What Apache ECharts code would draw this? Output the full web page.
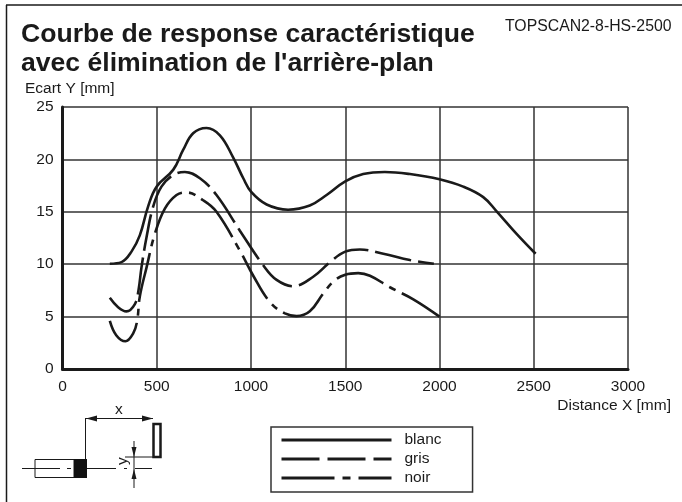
<!DOCTYPE html>
<html>
<head>
<meta charset="utf-8">
<style>html,body{margin:0;padding:0;background:#fff}#chart{width:682px;height:502px}</style>
<script src="https://cdn.jsdelivr.net/npm/echarts@6/dist/echarts.min.js"></script>
</head>
<body>
<div id="chart"></div>
<script>
var blanc = [[251,10.05],[313,10.2],[366,11.2],[410,12.75],[454,15.5],[499,17.4],[587,19],[640,20.9],[693,22.5],[764,23],[835,22.3],[905,20.2],[959,18.2],[1001,16.9],[1083,15.7],[1197,15.2],[1312,15.6],[1401,16.6],[1500,17.9],[1595,18.6],[1710,18.8],[1843,18.6],[2000,18.1],[2126,17.4],[2232,16.4],[2303,15.05],[2409,12.9],[2510,11]];
var gris = [[251,6.8],[295,5.9],[339,5.5],[384,6.2],[403,7.5],[419,9.7],[446,12.6],[481,15.5],[525,17.4],[587,18.5],[649,18.8],[729,18.2],[817,16.6],[941,13.2],[1065,9.9],[1136,8.5],[1224,7.9],[1330,8.8],[1420,10.2],[1500,11.2],[1578,11.4],[1702,11],[1843,10.4],[1970,10.05]];
var noir = [[251,4.6],[286,3.2],[334,2.65],[375,3.4],[396,4.6],[410,6.9],[446,9.7],[490,12.9],[543,15.3],[605,16.6],[658,16.85],[746,16.1],[817,15],[941,11.3],[1012,8.9],[1100,6.4],[1180,5.3],[1242,5.05],[1312,5.5],[1383,7.2],[1440,8.4],[1500,9],[1569,9.15],[1631,8.9],[1737,7.8],[1861,6.65],[2000,5]];
var font = 'Liberation Sans';
var ink = '#1a1a1a';

var dom = echarts.init(document.getElementById('chart'));

function curve(name, data, dash){
	return {
		name: name,
		type: 'line',
		data: data,
		smooth: 0.4,
		symbol: 'none',
		silent: true,
		itemStyle: {color: ink},
		lineStyle: {color: ink, width: 2.6, type: dash}
	};
}
function seg(x1, y1, x2, y2, w){
	return {type:'line', shape:{x1:x1,y1:y1,x2:x2,y2:y2}, style:{stroke:ink, lineWidth:w||1}};
}
function tri(p){
	return {type:'polygon', shape:{points:p}, style:{fill:ink}};
}
//pas de separateur de milliers
function plain(v){
	return String(v);
}

var option = {
	animation: false,
	backgroundColor: '#fff',
	title: [{
		text: "Courbe de response caractéristique\navec élimination de l'arrière-plan",
		left: 21, top: 20, padding: 0,
		textStyle: {fontFamily: font, fontSize: 26.6, fontWeight: 'bold', color: ink, lineHeight: 29}
	},{
		text: 'TOPSCAN2-8-HS-2500',
		left: 505, top: 19, padding: 0,
		textStyle: {fontFamily: font, fontSize: 15.8, fontWeight: 'normal', color: ink}
	}],
	grid: {left: 62.5, right: 54, top: 107, bottom: 133, show: false},
	xAxis: {
		type: 'value', min: 0, max: 3000, interval: 500,
		name: 'Distance X [mm]', nameLocation: 'end', nameGap: 43,
		nameTextStyle: {fontFamily: font, fontSize: 15.5, color: ink, align: 'right', verticalAlign: 'top', padding: [29,0,0,0]},
		axisLine: {show: true, lineStyle: {color: ink, width: 3}},
		axisTick: {show: false},
		axisLabel: {fontFamily: font, fontSize: 15.5, color: ink, margin: 10, formatter: plain},
		splitLine: {show: true, lineStyle: {color: '#333', width: 1.5}}
	},
	yAxis: {
		type: 'value', min: 0, max: 25, interval: 5,
		name: 'Ecart Y [mm]', nameLocation: 'end', nameGap: 10,
		nameTextStyle: {fontFamily: font, fontSize: 15.5, color: ink, align: 'left', padding: [0,0,0,-37.5]},
		axisLine: {show: true, lineStyle: {color: ink, width: 3}},
		axisTick: {show: false},
		axisLabel: {fontFamily: font, fontSize: 15.5, color: ink, margin: 9, formatter: plain},
		splitLine: {show: true, lineStyle: {color: '#333', width: 1.5}}
	},
	legend: {
		orient: 'vertical',
		left: 271, top: 427,
		padding: [5,31,6,9],
		itemWidth: 110, itemHeight: 14, itemGap: 3,
		borderColor: '#333', borderWidth: 1.5,
		itemStyle: {opacity: 0},
		textStyle: {fontFamily: font, fontSize: 15.5, color: ink, padding: [0,0,0,8]},
		data: [
			{name:'blanc', lineStyle:{width:3}},
			{name:'gris', lineStyle:{width:3, type:[38,8]}},
			{name:'noir', lineStyle:{width:3, type:[53,8,8,8]}}
		]
	},
	series: [
		curve('blanc', blanc, 'solid'),
		curve('gris', gris, [37,7]),
		curve('noir', noir, [50,7,7,7])
	],
	graphic: [
		//cadre
		seg(6.5, 5, 6.5, 502, 1.5),
		seg(6, 5, 682, 5, 1.5),
		//schema capteur
		{type:'rect', shape:{x:35,y:459.5,width:39,height:18}, style:{fill:'#fff', stroke:ink, lineWidth:1}},
		{type:'rect', shape:{x:74,y:459,width:13,height:19}, style:{fill:'#111'}},
		seg(22,468.5,60,468.5), seg(67,468.5,71,468.5), seg(87,468.5,116,468.5),
		seg(124,468.5,127,468.5), seg(135,468.5,152,468.5),
		seg(85.5,418,85.5,459), seg(85.5,418.5,153,418.5),
		tri([[86,418.5],[97,415.5],[97,421.5]]), tri([[153,418.5],[142,415.5],[142,421.5]]),
		{type:'rect', shape:{x:153.5,y:424,width:7,height:33}, style:{fill:'#fff', stroke:ink, lineWidth:2.5}},
		seg(125,457,153,457),
		seg(134,441,134,488),
		tri([[134,457],[131.5,447],[136.5,447]]), tri([[134,469],[131.5,479],[136.5,479]]),
		{type:'text', x:115, y:402, style:{text:'x', fontFamily:font, fontSize:15.5, fill:ink}},
		{type:'text', x:115, y:465, rotation:Math.PI/2, style:{text:'y', fontFamily:font, fontSize:15.5, fill:ink}}
	]
};

dom.setOption(option);
</script>
</body>
</html>
